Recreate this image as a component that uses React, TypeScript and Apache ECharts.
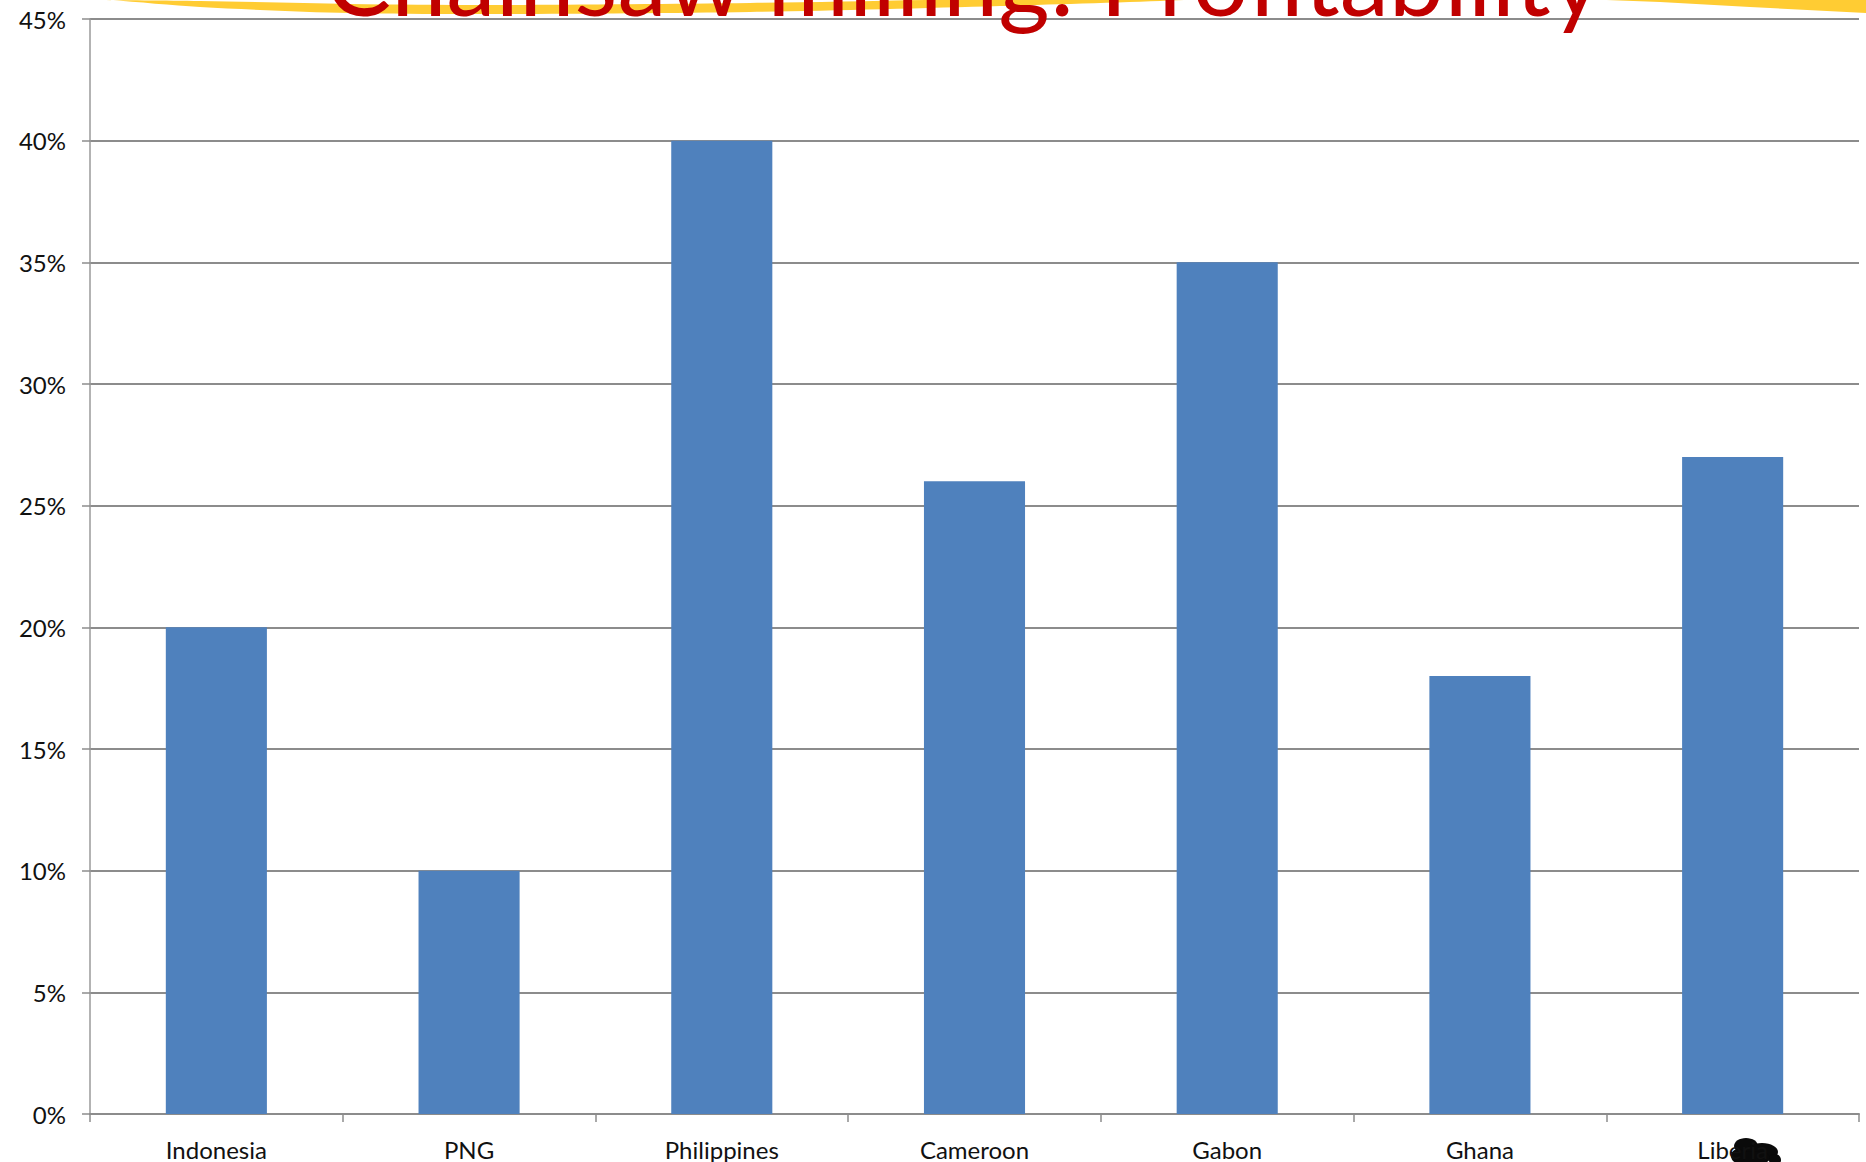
import React, { useEffect, useRef } from "react";
import * as echarts from "echarts";

const categories = ["Indonesia", "PNG", "Philippines", "Cameroon", "Gabon", "Ghana", "Liberia"];
const profitability = [0.20, 0.10, 0.40, 0.26, 0.35, 0.18, 0.27];
const yTicks = { min: 0, max: 0.45, interval: 0.05 };
const titleText = "Chainsaw milling: Profitability";

export default function App() {
  const ref = useRef<HTMLDivElement>(null);
  useEffect(() => {
    document.body.style.margin = "0";
    const chart = echarts.init(ref.current!, null, { renderer: "svg" });
    const font = "Lato, 'Open Sans', sans-serif";
    chart.setOption({
      animation: false,
      backgroundColor: "#ffffff",
      grid: { left: 90, top: 19, right: 7, bottom: 48, containLabel: false },
      xAxis: {
        type: "category",
        data: categories,
        boundaryGap: true,
        axisLine: { show: true, lineStyle: { color: "#8c8c8c", width: 2 } },
        axisTick: { show: true, length: 8, alignWithLabel: false, lineStyle: { color: "#8c8c8c", width: 1.5 } },
        axisLabel: { color: "#111", fontSize: 24, fontFamily: font, margin: 23, interval: 0 },
        splitLine: { show: false },
      },
      yAxis: {
        type: "value",
        min: yTicks.min,
        max: yTicks.max,
        interval: yTicks.interval,
        axisLine: { show: true, lineStyle: { color: "#9a9a9a", width: 1.5 } },
        axisTick: { show: true, length: 8, lineStyle: { color: "#8c8c8c", width: 1.5 } },
        axisLabel: {
          color: "#111",
          fontSize: 24,
          fontFamily: font,
          margin: 24,
          formatter: (v: number) => Math.round(v * 100) + "%",
        },
        splitLine: { show: true, lineStyle: { color: "#8c8c8c", width: 2 } },
      },
      series: [
        {
          type: "bar",
          data: profitability,
          barCategoryGap: "60%",
          itemStyle: { color: "#4F81BD" },
        },
      ],
      graphic: [
        {
          type: "polygon",
          z: 0,
          silent: true,
          shape: {
            points: [
              [95, 0], [200, 1], [350, 4], [500, 5], [750, 3], [1000, -1], [1200, -1],
              [1000, 6], [750, 12], [500, 14], [350, 13], [200, 7], [110, 0],
            ],
            smooth: 0.3,
          },
          style: { fill: "#FFCC33" },
        },
        {
          type: "polygon",
          z: 0,
          silent: true,
          shape: {
            points: [[1580, -1], [1866, -1], [1866, 13], [1750, 7], [1660, 2]],
          },
          style: { fill: "#FFCC33" },
        },
        {
          type: "text",
          z: 100,
          silent: true,
          left: 325,
          top: -72,
          style: {
            text: titleText,
            fill: "#C00000",
            fontSize: 99,
            fontFamily: font,
          },
        },
        {
          type: "group",
          z: 100,
          silent: true,
          children: [
            { type: "ellipse", shape: { cx: 1746, cy: 1146, rx: 12, ry: 8 }, style: { fill: "#0a0a0a" } },
            { type: "ellipse", shape: { cx: 1762, cy: 1152, rx: 16, ry: 9 }, style: { fill: "#0a0a0a" } },
            { type: "ellipse", shape: { cx: 1754, cy: 1158, rx: 16, ry: 7 }, style: { fill: "#0a0a0a" } },
            { type: "circle", shape: { cx: 1738, cy: 1156, r: 7 }, style: { fill: "#0a0a0a" } },
            { type: "circle", shape: { cx: 1775, cy: 1160, r: 6 }, style: { fill: "#0a0a0a" } },
          ],
        },
      ],
    });
    return () => chart.dispose();
  }, []);
  return <div ref={ref} style={{ width: 1866, height: 1162 }} />;
}
